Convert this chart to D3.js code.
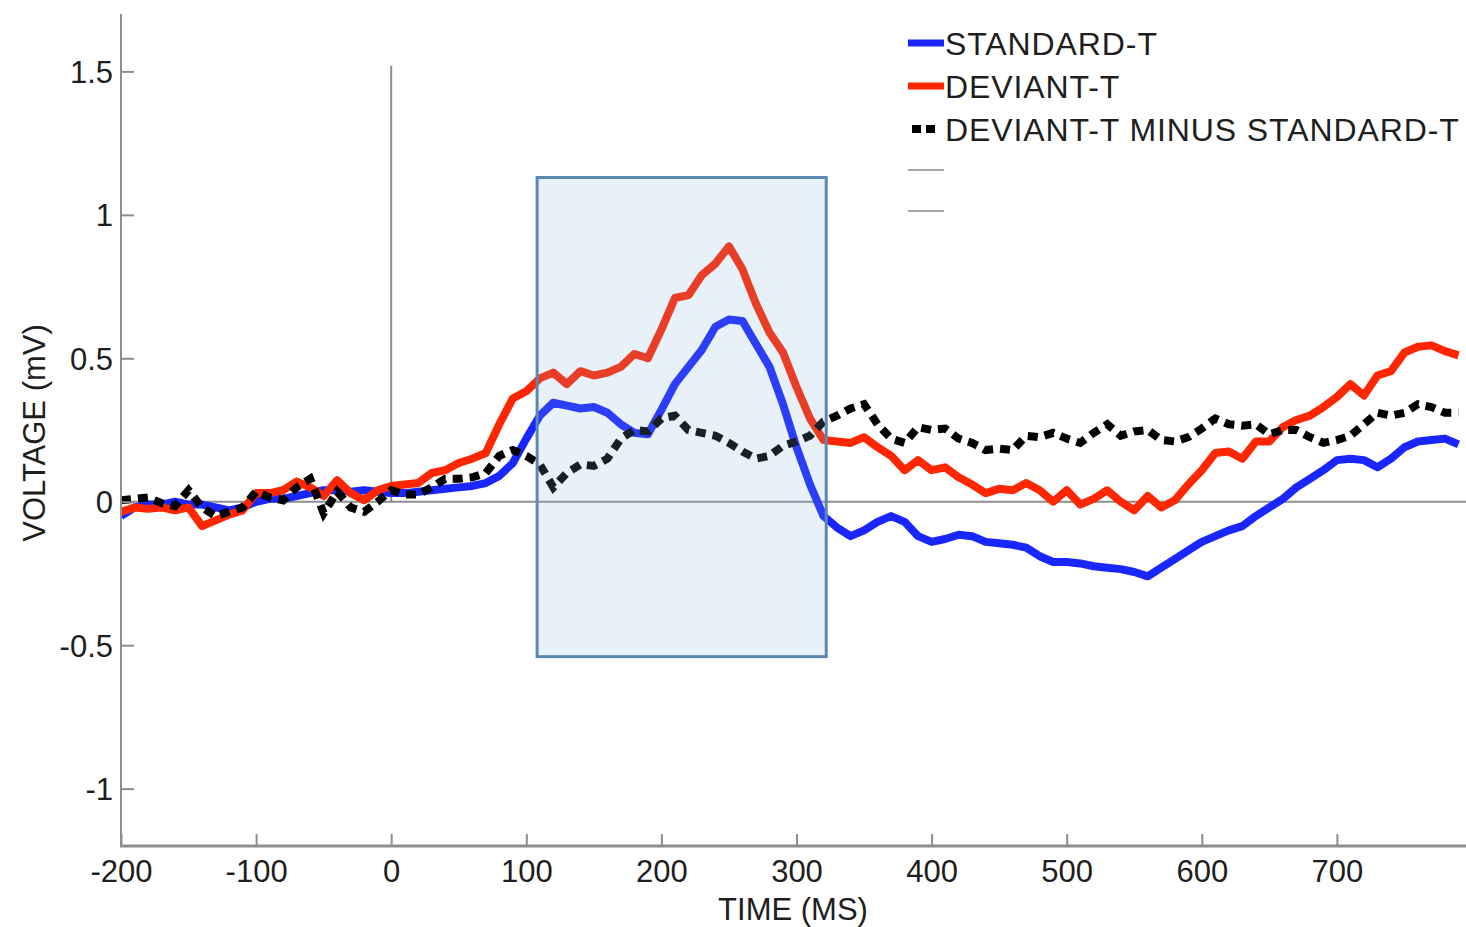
<!DOCTYPE html>
<html>
<head>
<meta charset="utf-8">
<script src="https://cdn.jsdelivr.net/npm/d3@7"></script>
<style>
  html, body { margin: 0; padding: 0; background: #fff; overflow: hidden; }
  svg { display: block; }
  text { font-family: "Liberation Sans", Arial, Helvetica, sans-serif; fill: #1e1e1e; }
</style>
</head>
<body>
<svg id="chart" width="1466" height="927"></svg>
<script>
// Sample times (ms) shared by all three waveforms
const times = d3.range(-200, 800, 10);

// Grand-average ERP, standard tones (mV)
const standardT = [
  -0.05, -0.02, -0.01, -0.01, 0.0, -0.01, -0.01, -0.02, -0.03, -0.02,
  0.0, 0.01, 0.01, 0.02, 0.03, 0.04, 0.04, 0.035, 0.04, 0.035,
  0.03, 0.03, 0.035, 0.04, 0.045, 0.05, 0.055, 0.065, 0.09, 0.135,
  0.22, 0.30, 0.345, 0.335, 0.325, 0.33, 0.31, 0.27, 0.24, 0.235,
  0.32, 0.41, 0.47, 0.53, 0.61, 0.635, 0.63, 0.55, 0.47, 0.34,
  0.19, 0.06, -0.05, -0.09, -0.12, -0.10, -0.07, -0.05, -0.07, -0.12,
  -0.14, -0.13, -0.115, -0.12, -0.14, -0.145, -0.15, -0.16, -0.19, -0.21,
  -0.21, -0.215, -0.225, -0.23, -0.235, -0.245, -0.26, -0.23, -0.20, -0.17,
  -0.14, -0.12, -0.10, -0.085, -0.05, -0.02, 0.01, 0.05, 0.08, 0.11,
  0.145, 0.15, 0.145, 0.12, 0.15, 0.19, 0.21, 0.215, 0.22, 0.20
];

// Grand-average ERP, deviant tones (mV)
const deviantT = [
  -0.035, -0.02, -0.025, -0.02, -0.03, -0.02, -0.085, -0.065, -0.045, -0.03,
  0.03, 0.03, 0.04, 0.07, 0.05, 0.02, 0.075, 0.03, 0.005, 0.04,
  0.055, 0.06, 0.065, 0.10, 0.11, 0.135, 0.15, 0.17, 0.27, 0.36,
  0.385, 0.43, 0.45, 0.41, 0.455, 0.44, 0.45, 0.47, 0.515, 0.50,
  0.60, 0.71, 0.72, 0.79, 0.83, 0.89, 0.81, 0.69, 0.59, 0.52,
  0.40, 0.29, 0.215, 0.21, 0.205, 0.225, 0.19, 0.16, 0.11, 0.145,
  0.11, 0.12, 0.085, 0.06, 0.03, 0.045, 0.04, 0.065, 0.04, 0.0,
  0.04, -0.01, 0.01, 0.04, 0.0, -0.03, 0.02, -0.02, 0.005, 0.06,
  0.11, 0.17, 0.175, 0.15, 0.21, 0.21, 0.26, 0.285, 0.30, 0.33,
  0.365, 0.41, 0.37, 0.44, 0.455, 0.52, 0.54, 0.545, 0.525, 0.51
];

// Difference wave, deviant minus standard (mV)
const differenceT = [
  0.005, 0.01, 0.015, -0.005, -0.015, 0.04, -0.02, -0.05, -0.035, -0.02,
  0.035, 0.015, 0.005, 0.05, 0.08, -0.04, 0.035, -0.02, -0.035, 0.0,
  0.04, 0.025, 0.025, 0.05, 0.08, 0.08, 0.085, 0.10, 0.16, 0.18,
  0.16, 0.13, 0.05, 0.10, 0.13, 0.125, 0.15, 0.22, 0.25, 0.245,
  0.29, 0.30, 0.25, 0.24, 0.23, 0.205, 0.175, 0.15, 0.16, 0.195,
  0.21, 0.23, 0.28, 0.30, 0.325, 0.34, 0.27, 0.22, 0.205, 0.26,
  0.25, 0.255, 0.22, 0.205, 0.18, 0.185, 0.18, 0.23, 0.225, 0.24,
  0.22, 0.205, 0.24, 0.27, 0.23, 0.245, 0.25, 0.215, 0.21, 0.225,
  0.255, 0.29, 0.27, 0.265, 0.27, 0.235, 0.25, 0.25, 0.225, 0.205,
  0.215, 0.23, 0.27, 0.31, 0.30, 0.31, 0.34, 0.33, 0.31, 0.31
];

// Analysis window (ms) and its vertical extent (mV)
const windowTimes = [108, 322];
const windowVolts = [-0.54, 1.13];

// Stimulus onset marker
const onsetTime = 0;
const onsetVolts = [0, 1.52];

// Axis ticks
const xTicks = [-200, -100, 0, 100, 200, 300, 400, 500, 600, 700];
const xTickLabels = ["-200", "-100", "0", "100", "200", "300", "400", "500", "600", "700"];
const yTicks = [-1, -0.5, 0, 0.5, 1, 1.5];
const yTickLabels = ["-1", "-0.5", "0", "0.5", "1", "1.5"];

// Legend entries
const legendLabels = ["STANDARD-T", "DEVIANT-T", "DEVIANT-T MINUS STANDARD-T", "", ""];
const legendColors = ["#1a26ff", "#ff2600", "#000000", "#a8a8a8", "#a8a8a8"];

const svg = d3.select("#chart");
const axisGrey = "#8e8e8e";

const x = d3.scaleLinear().domain([-200, 800]).range([121, 1472]);
const y = d3.scaleLinear().domain([-1.2, 1.7]).range([846, 14]);

svg.append("clipPath").attr("id", "plotClip")
  .append("rect").attr("x", x(-200)).attr("y", y(1.7))
  .attr("width", 1466 - x(-200)).attr("height", y(-1.2) - y(1.7));

// Zero baseline and stimulus onset line
svg.append("line")
  .attr("x1", x(-200)).attr("x2", 1466)
  .attr("y1", y(0)).attr("y2", y(0))
  .attr("stroke", axisGrey).attr("stroke-width", 2);

svg.append("line")
  .attr("x1", x(onsetTime)).attr("x2", x(onsetTime))
  .attr("y1", y(onsetVolts[0])).attr("y2", y(onsetVolts[1]))
  .attr("stroke", axisGrey).attr("stroke-width", 2);

// Waveforms
const line = d3.line()
  .x((d, i) => x(times[i]))
  .y(d => y(d))
  .curve(d3.curveLinear);

const plot = svg.append("g").attr("clip-path", "url(#plotClip)");

plot.append("path").datum(standardT)
  .attr("d", line).attr("fill", "none")
  .attr("stroke", legendColors[0]).attr("stroke-width", 8)
  .attr("stroke-linejoin", "round");

plot.append("path").datum(deviantT)
  .attr("d", line).attr("fill", "none")
  .attr("stroke", legendColors[1]).attr("stroke-width", 8)
  .attr("stroke-linejoin", "round");

plot.append("path").datum(differenceT)
  .attr("d", line).attr("fill", "none")
  .attr("stroke", "#000").attr("stroke-width", 8)
  .attr("stroke-dasharray", "10,7");

// Shaded analysis window (translucent overlay)
svg.append("rect")
  .attr("x", x(windowTimes[0])).attr("y", y(windowVolts[1]))
  .attr("width", x(windowTimes[1]) - x(windowTimes[0]))
  .attr("height", y(windowVolts[0]) - y(windowVolts[1]))
  .attr("fill", "rgb(130,170,216)").attr("fill-opacity", 0.18)
  .attr("stroke", "#5a88b2").attr("stroke-width", 3);

// Axes
const yAxis = d3.axisRight(y)
  .tickValues(yTicks)
  .tickFormat((d, i) => yTickLabels[i])
  .tickSize(13).tickPadding(0);

const gy = svg.append("g").attr("transform", `translate(${x(-200)},0)`).call(yAxis);
gy.select(".domain").remove();
gy.selectAll(".tick line").attr("stroke", axisGrey).attr("stroke-width", 2);
gy.selectAll(".tick text")
  .attr("x", -8).attr("text-anchor", "end").attr("dy", "0.36em")
  .style("font-size", "31px").style("fill", "#1e1e1e");

svg.append("line")
  .attr("x1", x(-200)).attr("x2", x(-200))
  .attr("y1", y(1.7)).attr("y2", y(-1.2))
  .attr("stroke", axisGrey).attr("stroke-width", 2);

const xAxis = d3.axisTop(x)
  .tickValues(xTicks)
  .tickFormat((d, i) => xTickLabels[i])
  .tickSize(12).tickPadding(0);

const gx = svg.append("g").attr("transform", `translate(0,${y(-1.2)})`).call(xAxis);
gx.select(".domain").remove();
gx.selectAll(".tick line").attr("stroke", axisGrey).attr("stroke-width", 2);
gx.selectAll(".tick text")
  .attr("y", 36).attr("dy", 0).attr("text-anchor", "middle")
  .style("font-size", "31px").style("fill", "#1e1e1e");

svg.append("line")
  .attr("x1", x(-200) - 1).attr("x2", 1466)
  .attr("y1", y(-1.2)).attr("y2", y(-1.2))
  .attr("stroke", axisGrey).attr("stroke-width", 3);

// Axis titles
svg.append("text")
  .attr("x", 793).attr("y", 920)
  .attr("text-anchor", "middle")
  .style("font-size", "31px")
  .text("TIME (MS)");

svg.append("text")
  .attr("transform", "translate(45,433) rotate(-90)")
  .attr("text-anchor", "middle")
  .style("font-size", "31px")
  .text("VOLTAGE (mV)");

// Legend
const legend = svg.append("g");
const legendRowY = [43, 86, 129, 170, 211];
legendLabels.forEach((label, i) => {
  const ly = legendRowY[i];
  if (i === 2) {
    legend.append("line")
      .attr("x1", 912).attr("x2", 940).attr("y1", ly).attr("y2", ly)
      .attr("stroke", legendColors[i]).attr("stroke-width", 8)
      .attr("stroke-dasharray", "9,5");
  } else {
    legend.append("line")
      .attr("x1", 908).attr("x2", 944).attr("y1", ly).attr("y2", ly)
      .attr("stroke", legendColors[i]).attr("stroke-width", i < 2 ? 7 : 2);
  }
  if (label) {
    legend.append("text")
      .attr("x", 945).attr("y", ly + 12)
      .style("font-size", "32px")
      .style("letter-spacing", "0.9px")
      .text(label);
  }
});
</script>
</body>
</html>
